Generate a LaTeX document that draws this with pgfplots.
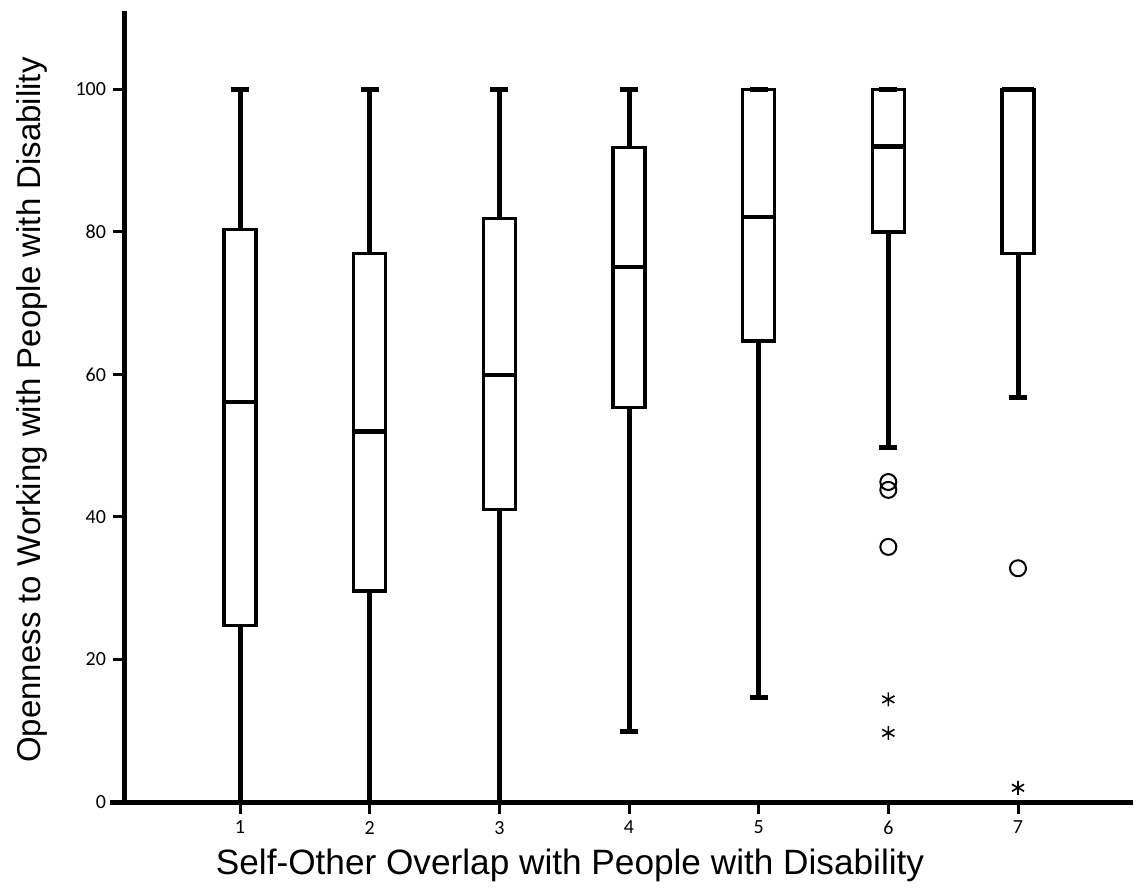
\documentclass[border=0pt]{standalone}
\usepackage{fontspec}
\setmainfont{Liberation Sans}
\newfontfamily\tickfont{Carlito}
\usepackage{pgfplots}
\pgfplotsset{compat=1.18}
\usepgfplotslibrary{statistics}

\begin{document}
\begin{tikzpicture}
\useasboundingbox (-62.5pt,-44pt) rectangle (507pt,401pt);
\begin{axis}[
  at={(0,0)}, anchor=south west,
  scale only axis, width=504pt, height=395.5pt,
  xmin=0.113, xmax=7.887, ymin=0, ymax=111,
  axis lines*=left,
  axis line style={line width=2.5pt},
  xtick={1,...,7}, ytick={0,20,40,60,80,100},
  tick align=outside, major tick length=6pt,
  tick style={line width=1.5pt, black},
  /pgf/number format/assume math mode=true,
  ticklabel style={font=\tickfont\fontsize{10}{12}\selectfont},
  xlabel={Self-Other Overlap with People with Disability},
  ylabel={Openness to Working with People with Disability},
  xlabel style={at={(axis description cs:0.4415,-0.0805)}, anchor=center, font=\fontsize{17.6}{20}\selectfont},
  ylabel style={at={(axis description cs:-0.0925,0.4956)}, anchor=center, font=\fontsize{16.5}{20}\selectfont},
  clip=false,
  boxplot/draw direction=y,
  boxplot/every box/.style={line width=1.6pt},
  boxplot/every whisker/.style={line width=2.5pt},
  boxplot/every median/.style={line width=2.2pt},
]
\draw[line width=2.5pt] (axis cs:0,0) -- (axis cs:0.2,0);
\addplot[black, boxplot prepared={draw position=1, lower whisker=0, lower quartile=24.8, median=56.1, upper quartile=80.3, upper whisker=100, box extend=0.247, whisker extend=0.139}] coordinates {};
\addplot[black, boxplot prepared={draw position=2, lower whisker=0, lower quartile=29.6, median=52.0, upper quartile=77.0, upper whisker=100, box extend=0.247, whisker extend=0.139}] coordinates {};
\addplot[black, boxplot prepared={draw position=3, lower whisker=0, lower quartile=41.0, median=59.9, upper quartile=81.9, upper whisker=100, box extend=0.247, whisker extend=0.139}] coordinates {};
\addplot[black, boxplot prepared={draw position=4, lower whisker=9.9, lower quartile=55.4, median=75.1, upper quartile=91.9, upper whisker=100, box extend=0.247, whisker extend=0.139}] coordinates {};
\addplot[black, boxplot prepared={draw position=5, lower whisker=14.7, lower quartile=64.7, median=82.1, upper quartile=100, upper whisker=100, box extend=0.247, whisker extend=0.139}] coordinates {};
\addplot[black, boxplot prepared={draw position=6, lower whisker=49.8, lower quartile=80.0, median=92.0, upper quartile=100, upper whisker=100, box extend=0.247, whisker extend=0.139}] coordinates {};
\addplot[black, boxplot prepared={draw position=7, lower whisker=56.8, lower quartile=77.0, median=100, upper quartile=100, upper whisker=100, box extend=0.247, whisker extend=0.139}] coordinates {};
\addplot[black, only marks, mark=o, mark size=4pt, line width=1pt] coordinates {(6,44.9) (6,43.8) (6,35.8) (7,32.8)};
\addplot[black, only marks, mark=asterisk, mark size=3.5pt, line width=0.8pt] coordinates {(6,14.4) (6,9.7) (7,2.0)};
\end{axis}
\end{tikzpicture}
\end{document}
